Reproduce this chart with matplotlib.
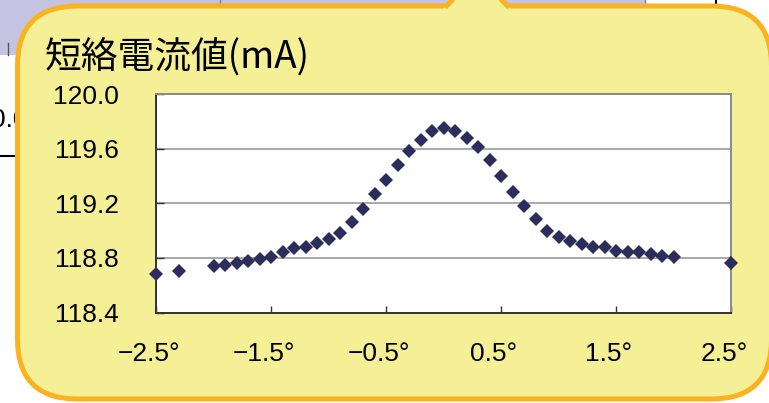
import matplotlib.pyplot as plt
import numpy as np
from matplotlib.patches import FancyBboxPatch, Polygon, Rectangle
from matplotlib.transforms import ScaledTranslation

# angle (deg) vs short-circuit current (mA)
angle = [-2.5, -2.3, -2.0, -1.9, -1.8, -1.7, -1.6, -1.5, -1.4, -1.3, -1.2, -1.1,
         -1.0, -0.9, -0.8, -0.7, -0.6, -0.5, -0.4, -0.3, -0.2, -0.1, 0.0,
         0.1, 0.2, 0.3, 0.4, 0.5, 0.6, 0.7, 0.8, 0.9, 1.0, 1.1, 1.2, 1.3,
         1.4, 1.5, 1.6, 1.7, 1.8, 1.9, 2.0, 2.5]
current = [118.68, 118.705, 118.74, 118.75, 118.76, 118.78, 118.79, 118.81,
           118.84, 118.87, 118.88, 118.91, 118.94, 118.985, 119.06, 119.16,
           119.27, 119.37, 119.48, 119.58, 119.665, 119.73, 119.75,
           119.73, 119.68, 119.61, 119.52, 119.40, 119.28, 119.18, 119.085,
           119.00, 118.95, 118.92, 118.90, 118.88, 118.88, 118.85, 118.845,
           118.84, 118.825, 118.815, 118.805, 118.76]

x_ticks = [-2.5, -1.5, -0.5, 0.5, 1.5, 2.5]
x_labels = ["\u22122.5°", "\u22121.5°", "\u22120.5°", "0.5°", "1.5°", "2.5°"]
y_ticks = [118.4, 118.8, 119.2, 119.6, 120.0]
y_labels = ["118.4", "118.8", "119.2", "119.6", "120.0"]
title = "短絡電流値(mA)"

W, H = 769, 403
fig = plt.figure(figsize=(W / 100, H / 100), dpi=100)
fig.patch.set_facecolor("white")

# slide background + callout bubble, in pixel units
bg = fig.add_axes([0, 0, 1, 1])
bg.set_xlim(0, W)
bg.set_ylim(H, 0)
bg.axis("off")

bg.add_patch(Rectangle((0, 0), 645, 55, facecolor="#C4C4E2", edgecolor="none", zorder=1))
bg.plot([220, 220], [0, 12], color="#808080", lw=1, zorder=2)
bg.plot([645, 645], [0, 12], color="#808080", lw=1, zorder=2)
bg.plot([716, 716], [0, 12], color="black", lw=1.5, zorder=2)
bg.plot([0, 20], [156, 156], color="black", lw=1.5, zorder=2)
bg.plot([8, 8], [43, 55], color="#555555", lw=1, zorder=2)
bg.text(-8.7, 127, "0.0", fontsize=19, family="Liberation Sans", va="baseline", zorder=2)

bubble = FancyBboxPatch((17.5, 6), 754, 393, boxstyle="round,pad=0,rounding_size=60",
                        facecolor="#F5F096", edgecolor="#FAB21E", linewidth=3.6, zorder=5)
bg.add_patch(bubble)
bg.add_patch(Polygon([(443, 9), (477, -25), (511, 9)], closed=True,
                     facecolor="#F5F096", edgecolor="none", zorder=6))
bg.plot([445, 477], [7.5, -25], color="#FAB21E", lw=3.6, solid_capstyle="butt", zorder=7)
bg.plot([509, 477], [7.5, -25], color="#FAB21E", lw=3.6, solid_capstyle="butt", zorder=7)

fig.text(45 / W, 1 - 58.5 / H, title, fontsize=26.5, family=["Noto Sans CJK JP", "DejaVu Sans"],
         ha="left", va="center")

# chart
ax = fig.add_axes([156 / W, 1 - 312.5 / H, 575 / W, 218.5 / H])
ax.set_facecolor("white")
ax.plot(angle, current, "D", color="#2B2D5C", ms=7.0, mew=0, clip_on=False, zorder=3)
ax.set_xlim(-2.5, 2.5)
ax.set_ylim(118.4, 120.0)
ax.set_xticks(x_ticks, x_labels)
ax.set_yticks(y_ticks, y_labels)
ax.yaxis.grid(True, color="#9A9A9A", lw=1.2)
ax.set_axisbelow(True)

ax.tick_params(axis="y", direction="in", length=6, width=1, color="#333333", pad=26.5, labelsize=19)
ax.tick_params(axis="x", direction="in", length=5, width=1, color="#333333", pad=21, labelsize=19)
for lbl in ax.get_xticklabels() + ax.get_yticklabels():
    lbl.set_family("Liberation Sans")
for lbl in ax.get_xticklabels():
    lbl.set_transform(lbl.get_transform() + ScaledTranslation(-7 / 100, 0, fig.dpi_scale_trans))

for side in ["left", "bottom"]:
    ax.spines[side].set_color("#333333")
    ax.spines[side].set_linewidth(1.4)
for side in ["top", "right"]:
    ax.spines[side].set_color("#8A8A8A")
    ax.spines[side].set_linewidth(1.4)

fig.savefig("out.png", dpi=100)
